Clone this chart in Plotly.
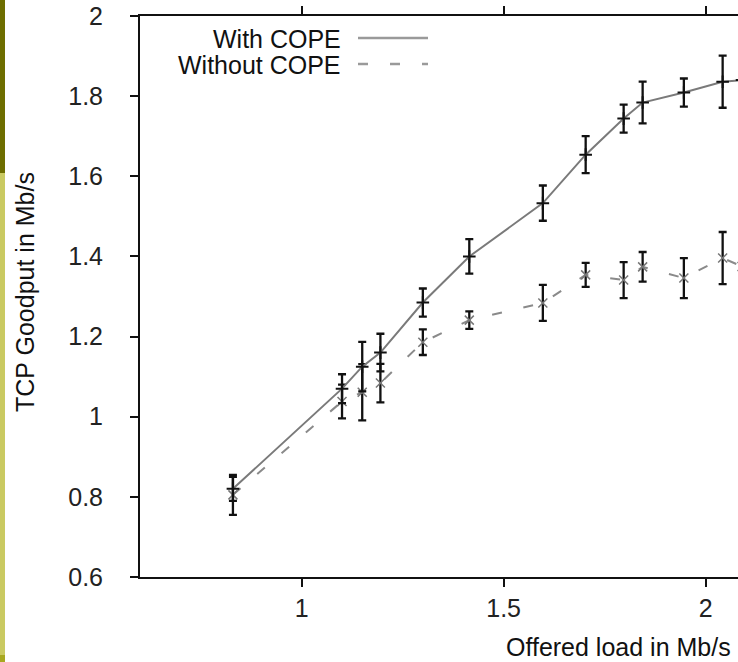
import plotly.graph_objects as go

# Offered load (Mb/s)
load = [0.83, 1.10, 1.15, 1.195, 1.30, 1.415, 1.597, 1.703, 1.797, 1.844, 1.946, 2.042, 2.09]

# TCP goodput with COPE (Mb/s) and error (half-range)
with_cope = [0.82, 1.07, 1.125, 1.16, 1.285, 1.40, 1.533, 1.654, 1.744, 1.784, 1.809, 1.836, 1.84]
with_err = [0.03, 0.036, 0.062, 0.047, 0.035, 0.043, 0.044, 0.046, 0.035, 0.052, 0.035, 0.065, 0.05]

# TCP goodput without COPE (Mb/s) and error
without_cope = [0.805, 1.038, 1.061, 1.084, 1.186, 1.241, 1.284, 1.354, 1.341, 1.374, 1.346, 1.396, 1.375]
without_err = [0.05, 0.042, 0.07, 0.048, 0.032, 0.022, 0.045, 0.03, 0.045, 0.037, 0.05, 0.065, 0.03]

x_ticks = [1, 1.5, 2]
x_tick_labels = ["1", "1.5", "2"]
y_ticks = [0.6, 0.8, 1.0, 1.2, 1.4, 1.6, 1.8, 2.0]
y_tick_labels = ["0.6", "0.8", "1", "1.2", "1.4", "1.6", "1.8", "2"]

FONT = "Liberation Sans, Arial, Helvetica, sans-serif"
FS = 25

fig = go.Figure()

fig.add_trace(go.Scatter(
    x=load, y=without_cope, mode="lines+markers", name="Without COPE",
    line=dict(color="#8a8a8a", width=2, dash="10px,22px"),
    marker=dict(symbol="x-thin", size=9, color="#777777", line=dict(width=1.5, color="#777777")),
    error_y=dict(type="data", array=without_err, color="#111111", thickness=2.3, width=4),
    showlegend=False,
))
fig.add_trace(go.Scatter(
    x=load, y=with_cope, mode="lines+markers", name="With COPE",
    line=dict(color="#7a7a7a", width=2),
    marker=dict(symbol="cross-thin", size=9, color="#111111", line=dict(width=2, color="#111111")),
    error_y=dict(type="data", array=with_err, color="#111111", thickness=2.3, width=4),
    showlegend=False,
))

L, R, T, B = 140, 0, 16, 85
W, H = 738, 662
PW, PH = W - L - R, H - T - B

def px(xp):
    return (xp - L) / PW

def py(yp):
    return (H - B - yp) / PH

shapes = [
    # left decorative strip
    dict(type="rect", xref="paper", yref="paper", x0=px(0), x1=px(5), y0=py(173), y1=py(0),
         fillcolor="#6e6e00", line=dict(width=0), layer="above"),
    dict(type="rect", xref="paper", yref="paper", x0=px(0), x1=px(5), y0=py(655), y1=py(173),
         fillcolor="#caca62", line=dict(width=0), layer="above"),
    dict(type="rect", xref="paper", yref="paper", x0=px(0), x1=px(5), y0=py(662), y1=py(655),
         fillcolor="#a8a820", line=dict(width=0), layer="above"),
    # legend samples
    dict(type="line", xref="paper", yref="paper", x0=px(358), x1=px(428), y0=py(38), y1=py(38),
         line=dict(color="#9a9a9a", width=2.5)),
    dict(type="line", xref="paper", yref="paper", x0=px(358), x1=px(428), y0=py(64), y1=py(64),
         line=dict(color="#9a9a9a", width=2.5, dash="10px,22px")),
]

annotations = [
    dict(text="With COPE", xref="paper", yref="paper", x=px(343), y=py(39), xanchor="right",
         yanchor="middle", showarrow=False, font=dict(family=FONT, size=FS, color="#111111")),
    dict(text="Without COPE", xref="paper", yref="paper", x=px(343), y=py(65), xanchor="right",
         yanchor="middle", showarrow=False, font=dict(family=FONT, size=FS, color="#111111")),
    dict(text="TCP Goodput in Mb/s", xref="paper", yref="paper", x=px(25), y=py(292), textangle=-90,
         xanchor="center", yanchor="middle", showarrow=False,
         font=dict(family=FONT, size=FS, color="#111111")),
    dict(text="Offered load in Mb/s", xref="paper", yref="paper", x=px(504), y=py(647),
         xanchor="left", yanchor="middle", showarrow=False,
         font=dict(family=FONT, size=FS, color="#111111")),
]

fig.update_layout(
    width=W, height=H,
    margin=dict(l=L, r=R, t=T, b=B, pad=0),
    paper_bgcolor="white", plot_bgcolor="white",
    font=dict(family=FONT, size=FS, color="#222222"),
    shapes=shapes, annotations=annotations,
    xaxis=dict(range=[0.6, 2.08], tickvals=x_ticks, ticktext=x_tick_labels,
               showgrid=False, zeroline=False, showline=True, linecolor="#111111", linewidth=2,
               ticks="outside", ticklen=8, tickwidth=2, tickcolor="#111111", mirror="ticks",
               ticklabelstandoff=0,
               tickfont=dict(family=FONT, size=FS, color="#222222")),
    yaxis=dict(range=[0.6, 2.0], tickvals=y_ticks, ticktext=y_tick_labels,
               showgrid=False, zeroline=False, showline=True, linecolor="#111111", linewidth=2,
               ticks="outside", ticklen=8, tickwidth=2, tickcolor="#111111",
               ticklabelstandoff=22,
               tickfont=dict(family=FONT, size=FS, color="#222222")),
)

fig.write_html("out.html", config={"displayModeBar": False},
               post_script="document.body.style.margin='0px';document.body.style.overflow='hidden';")
